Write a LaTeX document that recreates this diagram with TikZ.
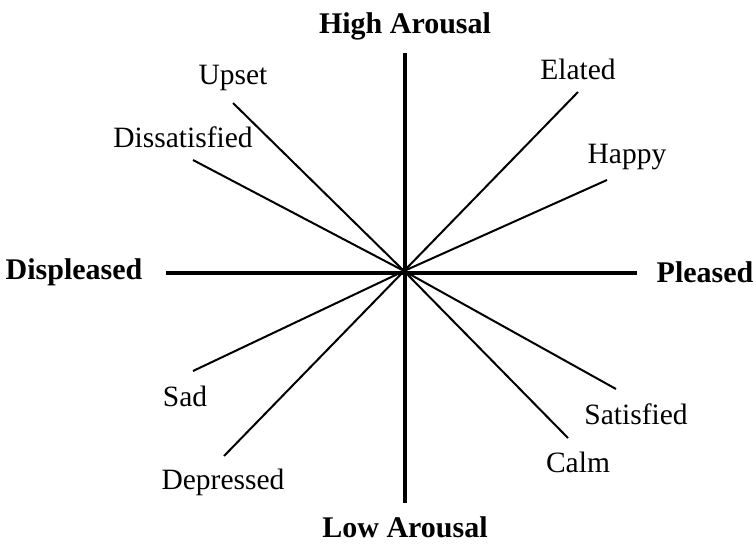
\documentclass[tikz,border=0pt]{standalone}
\usepackage{fontspec}
\setmainfont{Liberation Serif}
\begin{document}
\begin{tikzpicture}[x=1pt,y=-1pt,
  axis/.style={line width=4.5pt},
  spoke/.style={line width=2pt},
  lab/.style={font=\fontsize{29.5}{34}\selectfont, inner sep=0pt},
  blab/.style={font=\fontsize{30}{34}\selectfont\bfseries, inner sep=0pt}]
\useasboundingbox (0,0) rectangle (754,544);
\coordinate (c) at (404,271);
% axes
\coordinate (top) at (405,53);
\coordinate (bot) at (405,503);
\coordinate (lft) at (166,273);
\coordinate (rgt) at (637,273);
\draw[axis] (top) -- (bot);
\draw[axis] (lft) -- (rgt);
% axis labels
\node[blab] (ha) at (405,26) {High Arousal};
\node[blab] (la) at (405,527) {Low Arousal};
\node[blab] (dp) at (74,272) {Displeased};
\node[blab] (pl) at (705,272) {Pleased};
% spoke ends
\coordinate (eUpset) at (233,103);
\coordinate (eDis) at (193,160);
\coordinate (eEla) at (578,92);
\coordinate (eHap) at (607,180);
\coordinate (eSad) at (193,371);
\coordinate (eDep) at (224,456);
\coordinate (eSat) at (616,389);
\coordinate (eCalm) at (568,438);
\foreach \e in {eUpset,eDis,eEla,eHap,eSad,eDep,eSat,eCalm}
  \draw[spoke] (c) -- (\e);
% labels
\node[lab] (upset) at (233,78) {Upset};
\node[lab] (dis) at (183,137) {Dissatisfied};
\node[lab] (ela) at (578,69) {Elated};
\node[lab] (hap) at (627,157) {Happy};
\node[lab] (sad) at (185,396) {Sad};
\node[lab] (dep) at (223,482) {Depressed};
\node[lab] (sat) at (636,414) {Satisfied};
\node[lab] (calm) at (578,462) {Calm};
\end{tikzpicture}
\end{document}
